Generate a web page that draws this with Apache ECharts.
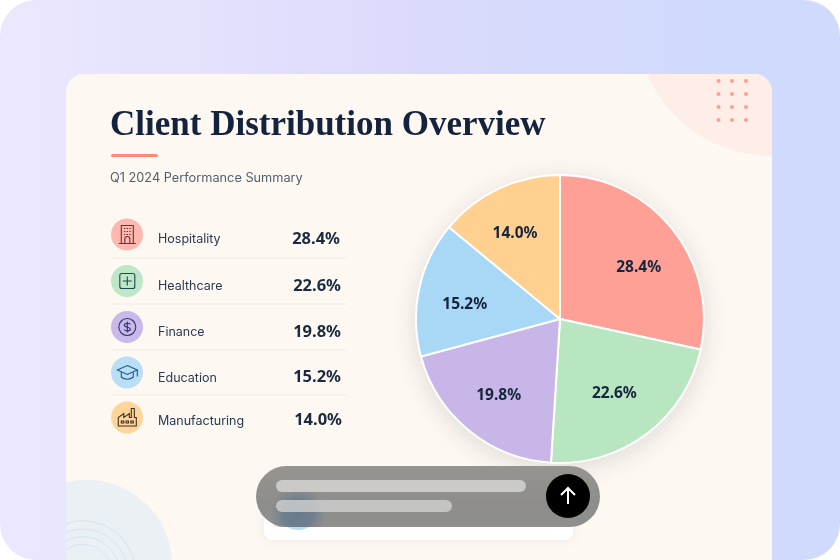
<!DOCTYPE html>
<html>
<head>
<meta charset="utf-8">
<style>html,body{margin:0;padding:0;background:#fff}#chart{width:840px;height:560px}</style>
<script src="https://cdn.jsdelivr.net/npm/echarts@6/dist/echarts.min.js"></script>
</head>
<body>
<div id="chart"></div>
<script>
// Client mix for the quarter
const categories = ['Hospitality', 'Healthcare', 'Finance', 'Education', 'Manufacturing'];
const shares = [28.4, 22.6, 19.8, 15.2, 14.0];
const sliceColors = ['#FFA096', '#B8E6C0', '#C8B6E8', '#A8D8F5', '#FFD08F'];
const badgeColors = ['#FFB8B0', '#BEE6C8', '#C9B8EA', '#B9DFF6', '#FFD59A'];
const iconInk = ['#7A2F2C', '#1D4A4C', '#2C3270', '#24558C', '#3A3226'];
const titleText = 'Client Distribution Overview';
const subtitleText = 'Q1 2024 Performance Summary';

// Layout of the summary list and the pie
const rowCentres = [234.5, 281, 327, 372.5, 417.5];
const labelCentres = [239.5, 286.5, 332.5, 378.5, 421.5];
const valueCentres = [239, 286, 332, 377, 420];
const valueRight = [340, 341, 341, 341, 342];
const dividers = [258, 304, 350, 395];
const labelNudge = [[2, 10], [-5, -4], [1, 0], [1, 6], [-3, 4]];
const PIE_X = 560, PIE_Y = 319, PIE_R = 144;
const CARD = { x: 66, y: 74, right: 772, bottom: 560 };

const chart = echarts.init(document.getElementById('chart'));

let shapeCount = 0;
// Turns an SVG path string into a graphic element
function pathEl(d, props) {
  const name = 'deco' + (shapeCount++);
  echarts.graphic.registerShape(name, echarts.graphic.extendPath(d));
  return Object.assign({ type: name, silent: true }, props);
}
// A circle trimmed to the card's left and bottom edges
function lowerLeftArc(cx, cy, r) {
  const y0 = cy - Math.sqrt(r * r - (CARD.x - cx) * (CARD.x - cx));
  const x1 = cx + Math.sqrt(r * r - (CARD.bottom - cy) * (CARD.bottom - cy));
  return { y0, x1, d: `M${CARD.x} ${y0}A${r} ${r} 0 0 1 ${x1} ${CARD.bottom}` };
}

// Line icons, drawn around each badge's centre
const iconPaths = [
  'M-6 9V-9H6V9M-8.5 9H8.5M-2.5 9V4.5A2.5 2.5 0 0 1 2.5 4.5V9M-3.4 -6H-2M-.7 -6H.7M2 -6H3.4M-3.4 -3H-2M-.7 -3H.7M2 -3H3.4M-3.4 0H-2M-.7 0H.7M2 0H3.4',
  'M-5.5 -7.5H5.5A2 2 0 0 1 7.5 -5.5V5.5A2 2 0 0 1 5.5 7.5H-5.5A2 2 0 0 1 -7.5 5.5V-5.5A2 2 0 0 1 -5.5 -7.5ZM-4.5 0H4.5M0 -4.5V4.5',
  'M8.5 0A8.5 8.5 0 1 1 -8.5 0A8.5 8.5 0 1 1 8.5 0ZM3 -2.6C2.4 -4 -3 -4.5 -3 -1.8C-3 1 3 -.6 3 2.2C3 4.6 -2.4 4.2 -3 2.6M0 -5.6V5.6',
  'M0 -7L10 -2.5L0 2L-10 -2.5ZM-6 0V4.5C-3 7.5 3 7.5 6 4.5V0M10 -2.5V4',
  'M-9 8.5V0L-3.5 -4V0L2 -4V0L4 0V-9H7V0L9 0V8.5ZM-6 3.5H-3.5V5.5H-6ZM-1.2 3.5H1.2V5.5H-1.2ZM3.5 3.5H6V5.5H3.5Z'
];

const under = [];
// Page backdrop and card
under.push({
  type: 'rect', silent: true,
  shape: { x: 0, y: 0, width: 840, height: 560, r: 36 },
  style: { fill: new echarts.graphic.LinearGradient(0, 0, 1, 0, [
    { offset: 0, color: '#EBE8FE' }, { offset: .5, color: '#DBDAFB' }, { offset: .8, color: '#D1DAFD' }, { offset: 1, color: '#D0DAFD' }
  ]) }
});
under.push({
  type: 'rect', silent: true,
  shape: { x: CARD.x, y: CARD.y, width: CARD.right - CARD.x, height: CARD.bottom - CARD.y, r: [18, 18, 0, 0] },
  style: { fill: '#FDF8F2' }
});

// Corner ornaments
under.push(pathEl('M647 74H754A18 18 0 0 1 772 92V156A136 136 0 0 1 647 74Z', { style: { fill: '#FEEEE7' } }));
[718.5, 732, 746].forEach(x => [81, 94, 107, 120].forEach(y => {
  under.push({ type: 'circle', silent: true, shape: { cx: x, cy: y, r: 2 }, style: { fill: '#FF9F92' } });
}));
const blob = lowerLeftArc(87, 565, 85);
under.push(pathEl(`${blob.d}H${CARD.x}Z`, { style: { fill: '#EAF0F3' } }));
[52.7, 44.4, 36.7, 29].forEach(r => {
  under.push(pathEl(lowerLeftArc(83, 573.4, r).d, { style: { fill: 'none', stroke: '#D6E6F2', lineWidth: 1 } }));
});

// Heading
under.push({ type: 'text', silent: true, x: 110, y: 126, style: {
  text: titleText, font: 'bold 35px "Liberation Serif"', fill: '#14233D', textAlign: 'left', textVerticalAlign: 'middle'
} });
under.push({ type: 'rect', silent: true, shape: { x: 111, y: 154, width: 47, height: 3, r: 1.5 }, style: { fill: '#FF8A78' } });
under.push({ type: 'text', silent: true, x: 110, y: 178, style: {
  text: subtitleText, font: '12.75px Inter', fill: '#55606E', textAlign: 'left', textVerticalAlign: 'middle'
} });

// Summary rows
dividers.forEach(y => under.push({
  type: 'rect', silent: true, shape: { x: 112, y: y - .5, width: 235, height: 1 }, style: { fill: '#EFEDE9' }
}));
categories.forEach((name, i) => {
  const cy = rowCentres[i];
  under.push({ type: 'circle', silent: true, shape: { cx: 127, cy, r: 16 }, style: { fill: badgeColors[i] } });
  under.push(pathEl(iconPaths[i], { x: 127.3, y: cy, style: { fill: 'none', stroke: iconInk[i], lineWidth: 1.1 } }));
  under.push({ type: 'text', silent: true, x: 158, y: labelCentres[i], style: {
    text: name, font: '12.5px Inter', fill: '#2A3A52', textAlign: 'left', textVerticalAlign: 'middle'
  } });
  under.push({ type: 'text', silent: true, x: valueRight[i], y: valueCentres[i], style: {
    text: shares[i].toFixed(1) + '%', font: 'bold 16.5px "Noto Sans"', fill: '#1A2A40', textAlign: 'right', textVerticalAlign: 'middle'
  } });
});

// Soft drop shadow behind the pie
under.push({
  type: 'circle', silent: true, shape: { cx: PIE_X, cy: PIE_Y, r: PIE_R - 1 },
  style: { fill: '#fff', shadowBlur: 26, shadowOffsetY: 5, shadowColor: 'rgba(40,40,40,.17)' }
});

// Composer bar along the bottom of the card (sits above the pie)
const over = [];
over.push({
  type: 'rect', silent: true, shape: { x: 264, y: 505, width: 309, height: 35, r: 8 },
  style: { fill: '#FFFFFF', shadowBlur: 12, shadowColor: 'rgba(120,100,80,.10)' }
});
over.push({ type: 'circle', silent: true, shape: { cx: 298, cy: 509, r: 21 }, style: { fill: '#BBDCF5' } });
over.push({
  type: 'rect', silent: true, shape: { x: 256, y: 466, width: 344, height: 61, r: 30.5 },
  style: { fill: new echarts.graphic.LinearGradient(0, 0, 0, 1, [
    { offset: 0, color: '#96948F' }, { offset: .65, color: '#8D8D8C' }, { offset: 1, color: '#8F8F8E' }
  ]) }
});
over.push({
  type: 'rect', silent: true, shape: { x: 268, y: 478, width: 66, height: 49 },
  style: { fill: new echarts.graphic.RadialGradient(298, 514, 28, [
    { offset: 0, color: 'rgba(104,122,142,1)' }, { offset: .55, color: 'rgba(108,124,142,.85)' }, { offset: 1, color: 'rgba(120,130,140,0)' }
  ], true) }
});
over.push({ type: 'rect', silent: true, shape: { x: 276, y: 480, width: 250, height: 12, r: 6 }, style: { fill: 'rgba(218,218,216,.78)' } });
over.push({ type: 'rect', silent: true, shape: { x: 276, y: 500, width: 176, height: 12, r: 6 }, style: { fill: 'rgba(218,218,216,.72)' } });
over.push({ type: 'circle', silent: true, shape: { cx: 568, cy: 496, r: 22 }, style: { fill: '#000' } });
over.push(pathEl('M0 8V-8M-7 -1L0 -8L7 -1', { x: 568, y: 496, style: { fill: 'none', stroke: '#fff', lineWidth: 2 } }));

under.forEach(el => { el.z = 0; });
over.forEach(el => { el.z = 10; });

const sliceData = categories.map((name, i) => ({ name, value: shares[i], itemStyle: { color: sliceColors[i] } }));

chart.setOption({
  animation: false,
  graphic: { elements: under.concat(over) },
  series: [
    {
      type: 'pie', z: 2, silent: true, startAngle: 90, clockwise: true,
      center: [PIE_X, PIE_Y], radius: [0, PIE_R],
      itemStyle: { borderColor: '#fff', borderWidth: 2 },
      label: { show: false }, labelLine: { show: false },
      data: sliceData
    },
    {
      // Ring of the same sectors, used only to carry the value labels further out
      type: 'pie', z: 3, silent: true, startAngle: 90, clockwise: true,
      center: [PIE_X, PIE_Y], radius: [47, PIE_R],
      itemStyle: { color: 'rgba(0,0,0,0)', borderWidth: 0 },
      label: {
        show: true, position: 'inside',
        fontFamily: 'Noto Sans', fontWeight: 'bold', fontSize: 15.5, color: '#14253C',
        formatter: p => p.value.toFixed(1) + '%'
      },
      labelLine: { show: false },
      labelLayout: p => ({ dx: labelNudge[p.dataIndex][0], dy: labelNudge[p.dataIndex][1] }),
      data: categories.map((name, i) => ({ name, value: shares[i] }))
    }
  ]
});
</script>
</body>
</html>
